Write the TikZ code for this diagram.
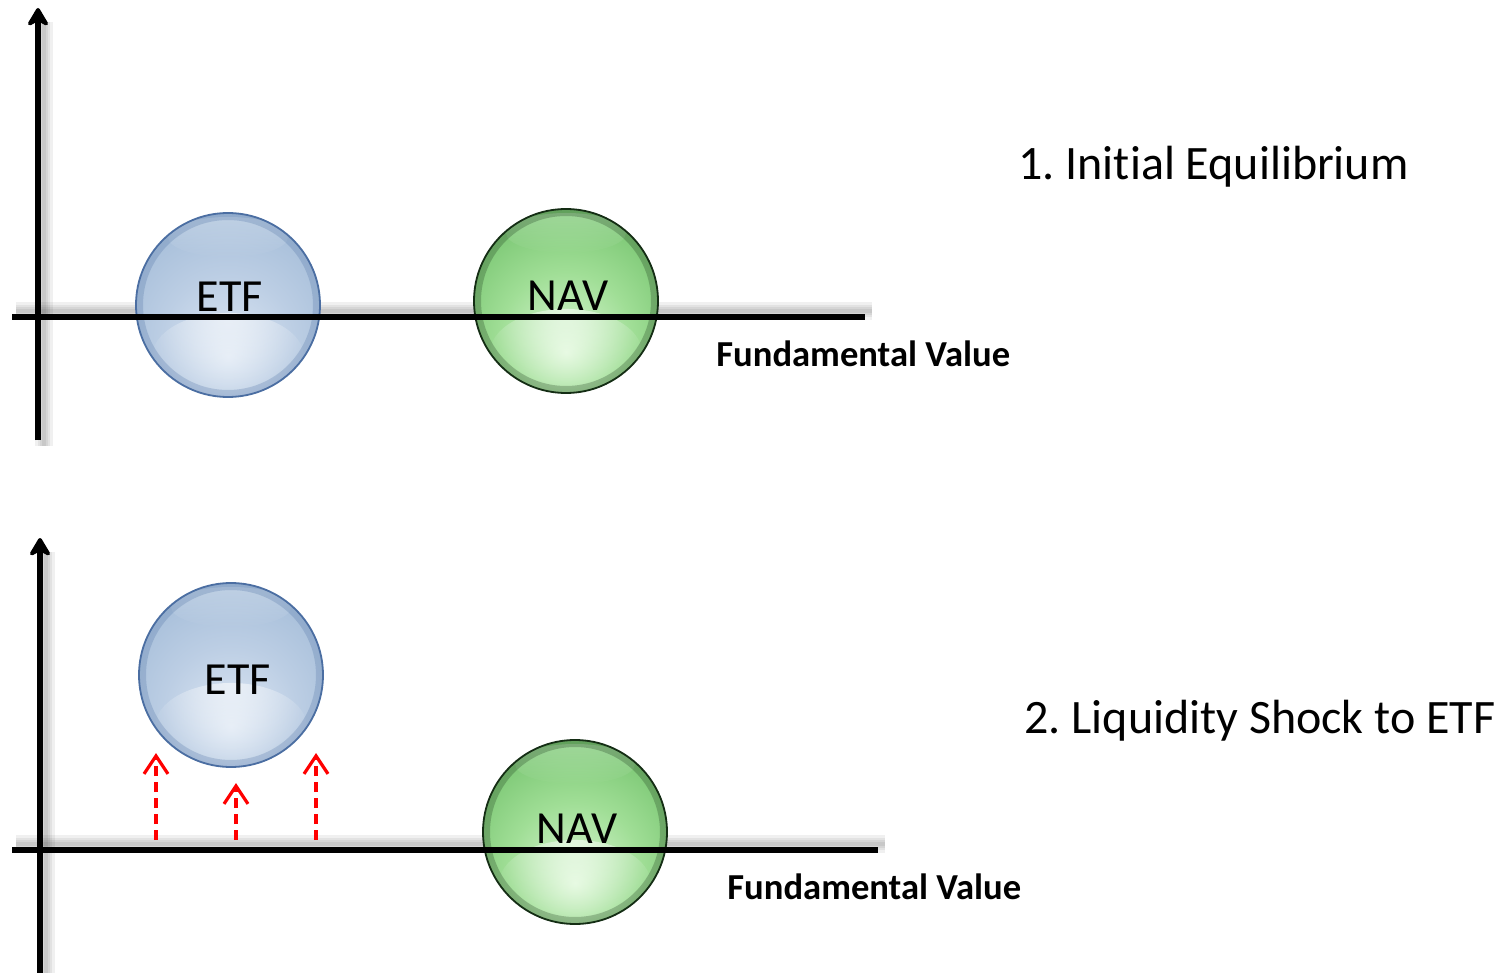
\documentclass[tikz,border=0pt]{standalone}
\usepackage{fontspec}
\setmainfont{Carlito}[Ligatures={NoCommon}]
\usetikzlibrary{arrows.meta,fadings}
\definecolor{etfA}{RGB}{222,232,244}
\definecolor{etfB}{RGB}{188,206,228}
\definecolor{etfC}{RGB}{155,182,212}
\definecolor{etfD}{RGB}{118,150,192}
\definecolor{etfE}{RGB}{85,120,170}
\definecolor{etfRim}{RGB}{75,110,162}
\definecolor{navA}{RGB}{222,248,216}
\definecolor{navB}{RGB}{160,222,150}
\definecolor{navC}{RGB}{102,186,96}
\definecolor{navD}{RGB}{70,150,65}
\definecolor{navE}{RGB}{40,100,40}
\definecolor{navRim}{RGB}{20,45,20}
\pgfdeclareradialshading{etfshade}{\pgfpoint{0bp}{-14bp}}{color(0bp)=(etfA); color(18bp)=(etfB); color(40bp)=(etfC); color(54bp)=(etfD); color(64bp)=(etfE)}
\pgfdeclareradialshading{navshade}{\pgfpoint{0bp}{-14bp}}{color(0bp)=(navA); color(18bp)=(navB); color(40bp)=(navC); color(54bp)=(navD); color(64bp)=(navE)}
\tikzfading[name=glowfade, inner color=transparent!40, outer color=transparent!100]
\tikzfading[name=topfade, top color=transparent!50, bottom color=transparent!100]
\tikzset{
  ball/.style={circle, minimum size=92pt, inner sep=0pt, line width=0.9pt,
    path picture={
      \fill[white, path fading=glowfade] ([yshift=-26pt]path picture bounding box.center) ellipse (38pt and 22pt);
      \fill[white, path fading=topfade, opacity=0.5] ([yshift=34pt]path picture bounding box.center) ellipse (30pt and 10pt);
      \draw[#1, line width=7pt, opacity=0.25] (path picture bounding box.center) circle (46pt);
    }},
  etfball/.style={ball=etfRim, shading=etfshade, draw=etfRim},
  navball/.style={ball=navRim, shading=navshade, draw=navRim},
  axisline/.style={line width=3.4pt, black},
  axisarrow/.style={axisline, -{Stealth[round, length=11pt, width=13pt, inset=3.5pt]}},
  axshadow/.style={line width=#1, black, opacity=0.06, line cap=butt},
  shock/.style={red, line width=1.6pt, dash pattern=on 5pt off 3pt, -{Straight Barb[length=9pt, width=12pt, line width=1.6pt]}},
  balltext/.style={font=\fontsize{23}{27}\selectfont, anchor=base, inner sep=0pt},
  axtext/.style={font=\bfseries\fontsize{18.3}{22}\selectfont, anchor=base west, inner sep=0pt},
  steptext/.style={font=\fontsize{24}{28}\selectfont, anchor=base west, inner sep=0pt}
}
\frenchspacing
\begin{document}
\begin{tikzpicture}[x=0.5pt, y=-0.5pt]
\useasboundingbox (0,0) rectangle (1505,973);
% ---------- panel 1 ----------
\coordinate (v1t) at (38,8);
\coordinate (v1b) at (38,440);
\coordinate (h1l) at (12,317);
\coordinate (h1r) at (865,317);
\foreach \w in {9pt,6pt,4pt,2pt}{
  \draw[axshadow=\w] ([shift={(6,14)}]v1t) -- ([shift={(6,6)}]v1b);
  \draw[axshadow=\w] ([shift={(4,-6)}]h1l) -- ([shift={(7,-6)}]h1r);
}
\node[etfball] (etf1) at (228,305) {};
\node[navball] (nav1) at (566,301) {};
\draw[axisarrow] (v1b) -- (v1t);
\draw[axisline] (h1l) -- (h1r);
\node[balltext] (etf1t) at (230,312) {ETF};
\node[balltext] (nav1t) at (568,311) {NAV};
\node[axtext] (fv1) at (716,366) {Fundamental Value};
\node[steptext] (s1) at (1018,180) {1. Initial Equilibrium};
% ---------- panel 2 ----------
\coordinate (v2t) at (40,538);
\coordinate (v2b) at (40,975);
\coordinate (h2l) at (12,850);
\coordinate (h2r) at (878,850);
\foreach \w in {9pt,6pt,4pt,2pt}{
  \draw[axshadow=\w] ([shift={(6,14)}]v2t) -- ([shift={(6,6)}]v2b);
  \draw[axshadow=\w] ([shift={(4,-6)}]h2l) -- ([shift={(7,-6)}]h2r);
}
\node[etfball] (etf2) at (231,675) {};
\node[navball] (nav2) at (575,832) {};
\draw[axisarrow] (v2b) -- (v2t);
\draw[axisline] (h2l) -- (h2r);
\node[balltext] (etf2t) at (238,694) {ETF};
\node[balltext] (nav2t) at (577,843) {NAV};
\node[axtext] (fv2) at (727,899) {Fundamental Value};
\node[steptext] (s2) at (1024,733) {2. Liquidity Shock to ETF};
% shock arrows
\coordinate (a1b) at (156,840); \coordinate (a1t) at (156,753);
\coordinate (a2b) at (236,840); \coordinate (a2t) at (236,783);
\coordinate (a3b) at (316,840); \coordinate (a3t) at (316,753);
\draw[shock] (a1b) -- (a1t);
\draw[shock] (a2b) -- (a2t);
\draw[shock] (a3b) -- (a3t);
\end{tikzpicture}
\end{document}
